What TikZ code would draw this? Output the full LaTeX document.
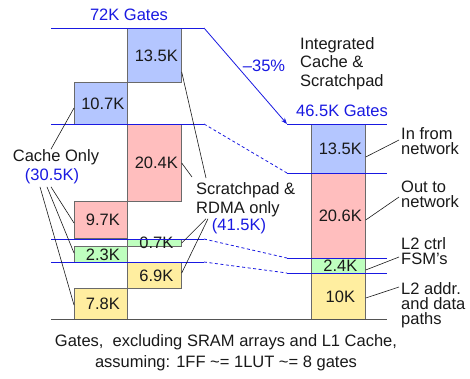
\documentclass[tikz,border=0pt]{standalone}
\usepackage{fontspec}
\setmainfont{Liberation Sans}
\usetikzlibrary{arrows.meta,positioning,calc}
\definecolor{gateblue}{RGB}{180,198,255}
\definecolor{gatepink}{RGB}{255,190,190}
\definecolor{gategreen}{RGB}{190,255,190}
\definecolor{gateyellow}{RGB}{255,238,160}
\definecolor{lineblue}{RGB}{25,25,225}
\definecolor{ink}{RGB}{25,25,25}
\tikzset{
  >={Stealth[length=2.2mm]},
  blk/.style={draw=ink!65,fill=#1,line width=0.7pt,inner sep=0pt,anchor=north west},
  blk/.default=gateblue,
  num/.style={font=\fontsize{16.5}{19}\selectfont,text=ink,inner sep=0pt},
  txt/.style={font=\fontsize{16.5}{19}\selectfont,text=ink,align=left,inner sep=0pt},
  side/.style={font=\fontsize{16.5}{15}\selectfont,text=ink,align=left,inner sep=0pt,anchor=west},
  gate/.style={font=\fontsize{16.5}{19}\selectfont,text=lineblue,inner sep=0pt},
  level/.style={draw=lineblue,line width=0.8pt},
  leader/.style={draw=ink,line width=0.6pt},
}

\begin{document}
\begin{tikzpicture}[x=1pt,y=-1pt]
    \useasboundingbox (0,0) rectangle (470,378);
    % stacked gate blocks: name/x/top/width/height/colour/text
    \foreach \n/\x/\y/\w/\h/\c/\t in {
      a135/127/28/54/54/gateblue/13.5K, a107/74/82/53/42/gateblue/10.7K,
      a204/127/124/54/77/gatepink/20.4K, a97/74/201/53/37/gatepink/9.7K,
      a07/127/239/54/7/gategreen/0.7K, a23/74/246/53/16/gategreen/2.3K,
      a69/127/262/54/26/gateyellow/6.9K, a78/74/288/53/31/gateyellow/7.8K,
      r135/311/124/54/49/gateblue/13.5K, r206/311/173/54/85/gatepink/20.6K,
      r24/311/258/54/15/gategreen/2.4K, r10/311/273/54/46/gateyellow/10K}{
      \node[blk=\c,minimum width=\w pt,minimum height=\h pt] (\n) at (\x,\y) {};
      \node[num] (\n-t) at ([xshift=2pt]\n.center) {\t};
    }
    \coordinate (base-l) at (51,319);
    \coordinate (base-r) at (387,319);
    \draw[ink!75,line width=0.8pt] (base-l) -- (base-r);
    % level lines between the two designs
    \foreach \i/\ya/\yb in {1/28/124,2/124/173,3/239/258,4/262/273}{
      \coordinate (lv\i) at (51,\ya);
      \coordinate (mv\i) at (204,\ya);
      \coordinate (kv\i) at (287,\yb);
      \coordinate (rv\i) at (387,\yb);
      \draw[level] (lv\i) -- (mv\i) (kv\i) -- (rv\i);
    }
    \draw[level,->] (mv1) -- (kv1);
    \foreach \i in {2,3,4}
      \draw[level,dash pattern=on 3pt off 2.5pt] (mv\i) -- (kv\i);
    \node[gate] (top-gates) at (129,15) {72K Gates};
    \node[gate] (new-gates) at (342,111) {46.5K Gates};
    \node[gate] (saving) at (264,66) {\textendash35\%};
    \node[txt,anchor=north west,font=\fontsize{16.5}{18.5}\selectfont] (integ) at (300,37) {Integrated\\Cache \&\\Scratchpad};
    % left labels
    \node[txt] (cache) at (56,157) {Cache Only};
    \node[gate] (cache-k) at (52,176) {(30.5K)};
    \node[txt,anchor=north west] (scr) at (196,182) {Scratchpad \&\\RDMA only};
    \node[gate] (scr-k) at (239,226) {(41.5K)};
    \draw[leader] ([xshift=-5pt]cache.north) -- ([yshift=-26pt]a107.north west);
    \draw[leader] ([xshift=-12pt,yshift=-3pt]cache-k.south) -- ([yshift=-17pt]a78.north west);
    \draw[leader] ([xshift=-5pt,yshift=-3pt]cache-k.south) -- ([yshift=-7pt]a23.north west);
    \draw[leader] ([xshift=-1pt,yshift=-3pt]cache-k.south) -- ([yshift=-22pt]a97.north west);
    \draw[leader] ([yshift=-44pt]a135.north east) -- ($(scr.north west)+(10,-4)$);
    \draw[leader] ([yshift=-39pt]a204.north east) -- ($(scr.north west)+(-4,-5)$);
    \draw[leader] ([yshift=-4pt]a07.north east) -- ($(scr.south west)+(10,2)$);
    \draw[leader] ([yshift=-11pt]a69.north east) -- ($(scr.south west)+(12,2)$);
    % right labels
    \node[side] (in-net) at (401,141.5) {In from\\network};
    \node[side] (out-net) at (401,194.5) {Out to\\network};
    \node[side] (ctrl) at (401,251.5) {L2 ctrl\\FSM's};
    \node[side] (addr) at (401,305) {L2 addr.\\and data\\paths};
    \draw[leader] ([yshift=-33pt]r135.north east) -- ([xshift=-2pt,yshift=1.5pt]in-net.west);
    \draw[leader] ([yshift=-47pt]r206.north east) -- ([xshift=-2pt,yshift=-2.5pt]out-net.west);
    \draw[leader] ([yshift=-12pt]r24.north east) -- ([xshift=-2pt,yshift=-5.5pt]ctrl.west);
    \draw[leader] ([yshift=-25pt]r10.north east) -- ([xshift=-2pt,yshift=18pt]addr.west);
    \node[txt,align=center,font=\fontsize{16.5}{21}\selectfont] (note) at (226,353) {Gates,\ \ excluding SRAM arrays and L1 Cache,\\assuming: 1FF \textasciitilde= 1LUT \textasciitilde= 8 gates};
\end{tikzpicture}
\end{document}
